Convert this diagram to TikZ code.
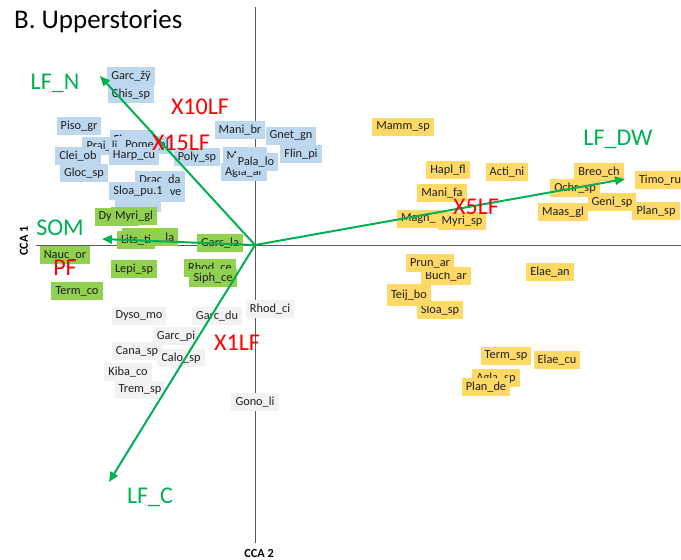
\documentclass[tikz,border=0pt]{standalone}
\usepackage{fontspec}
\setmainfont{Carlito}
\usetikzlibrary{arrows.meta}
\definecolor{vecgreen}{RGB}{0,176,80}
\definecolor{spblue}{RGB}{189,215,238}
\definecolor{spgreen}{RGB}{146,208,80}
\definecolor{spgrey}{RGB}{242,242,242}
\definecolor{spyellow}{RGB}{255,217,102}
\definecolor{axisgrey}{RGB}{89,89,89}
\definecolor{sptext}{RGB}{30,30,30}
\begin{document}
\begin{tikzpicture}[x=0.03cm,y=-0.03cm,
    sp/.style={rectangle,inner xsep=3.5pt,inner ysep=0pt,minimum height=0.54cm,text=sptext,font=\fontsize{10.5}{12}\selectfont},
    bsp/.style={sp,fill=spblue},
    gsp/.style={sp,fill=spgreen},
    wsp/.style={sp,fill=spgrey},
    ysp/.style={sp,fill=spyellow},
    vec/.style={vecgreen,line width=1.7pt,-{Triangle[length=0.3cm,width=0.25cm]}},
    vlab/.style={vecgreen,font=\fontsize{20.5}{24}\selectfont},
    flab/.style={red,font=\fontsize{20.5}{24}\selectfont}]
    \useasboundingbox (0,0) rectangle (681,559);
    \node[anchor=base west,font=\fontsize{23}{27}\selectfont] (title) at (10,28) {B. Upperstories};
    \coordinate (o) at (255,245);
    \coordinate (ytop) at (255,7);
    \coordinate (ybot) at (255,543);
    \coordinate (xleft) at (36,245);
    \coordinate (xright) at (681,245);
    \draw[axisgrey,line width=0.8pt] (ytop) -- (ybot) (xleft) -- (xright);
    \node[rotate=90,font=\bfseries\fontsize{10.5}{12}\selectfont] (cca1) at (24,241) {CCA 1};
    \node[font=\bfseries\fontsize{10.5}{12}\selectfont] (cca2) at (259,553) {CCA 2};

    \node[bsp,text width=1.1cm,align=left] (fi) at (132,139) {Fi};
    \node[bsp] (chissp) at (131,94) {Chis\_sp};
    \node[bsp] (garczy) at (131,76) {Garc\_žÿ};
    \node[bsp] (pisogr) at (79,126) {Piso\_gr};
    \node[bsp] (praili) at (102,146) {Prai\_li};
    \node[bsp] (pomeal) at (147,145) {Pome\_al};
    \node[bsp] (cleiob) at (78,156) {Clei\_ob};
    \node[bsp] (harpcu) at (134,156) {Harp\_cu};
    \node[bsp] (glocsp) at (84,173) {Gloc\_sp};
    \node[bsp] (polysp) at (197,157) {Poly\_sp};
    \node[bsp] (manibr) at (240,130) {Mani\_br};
    \node[bsp] (gnetgn) at (291,136) {Gnet\_gn};
    \node[bsp] (flinpi) at (301,154) {Flin\_pi};
    \node[bsp,text width=1.1cm,align=left] (mbox) at (245,156) {M};
    \node[bsp] (aglaar) at (244,172) {Agla\_ar};
    \node[bsp] (palalo) at (256,162) {Pala\_lo};
    \node[bsp] (dracda) at (160,180) {Drac\_da};
    \node[bsp,text width=1.1cm,align=right] (vebox) at (163,193) {ve};
    \node[bsp,minimum width=1.4cm] (hidbox) at (138,203) {};
    \node[bsp] (sloapu) at (138,191) {Sloa\_pu.1};

    \node[gsp,text width=1.1cm,align=left] (dybox) at (117,217) {Dy};
    \node[gsp] (myrigl) at (134,216) {Myri\_gl};
    \node[gsp,text width=1.45cm,align=right] (labox) at (150,237) {la};
    \node[gsp] (litsti) at (136,240) {Lits\_ti};
    \node[gsp] (garcla) at (220,243) {Garc\_la};
    \node[gsp] (naucor) at (65,255) {Nauc\_or};
    \node[gsp] (termco) at (77,291) {Term\_co};
    \node[gsp] (lepisp) at (134,269) {Lepi\_sp};
    \node[gsp] (rhodce) at (210,268) {Rhod\_ce};
    \node[gsp] (siphce) at (213,278) {Siph\_ce};

    \node[wsp] (dysomo) at (139,316) {Dyso\_mo};
    \node[wsp] (garcdu) at (217,316) {Garc\_du};
    \node[wsp] (rhodci) at (270,309) {Rhod\_ci};
    \node[wsp] (garcpi) at (176,336) {Garc\_pi};
    \node[wsp] (calosp) at (181,358) {Calo\_sp};
    \node[wsp] (canasp) at (137,351) {Cana\_sp};
    \node[wsp] (kibaco) at (128,372) {Kiba\_co};
    \node[wsp] (tremsp) at (140,390) {Trem\_sp};
    \node[wsp] (gonoli) at (255,402) {Gono\_li};

    \node[ysp] (mammsp) at (403,127) {Mamm\_sp};
    \node[ysp] (haplfl) at (448,170) {Hapl\_fl};
    \node[ysp] (actini) at (507,172) {Acti\_ni};
    \node[ysp] (manifa) at (442,193) {Mani\_fa};
    \node[ysp,text width=1.2cm,align=left] (magn) at (421,219) {Magn\_};
    \node[ysp] (myrisp) at (462,221) {Myri\_sp};
    \node[ysp] (ochrsp) at (575,188) {Ochr\_sp};
    \node[ysp] (breoch) at (599,172) {Breo\_ch};
    \node[ysp] (timoru) at (660,180) {Timo\_ru};
    \node[ysp] (maasgl) at (563,212) {Maas\_gl};
    \node[ysp] (genisp) at (612,202) {Geni\_sp};
    \node[ysp] (plansp) at (656,211) {Plan\_sp};
    \node[ysp] (buchar) at (446,276) {Buch\_ar};
    \node[ysp] (prunar) at (430,263) {Prun\_ar};
    \node[ysp] (sloasp) at (440,310) {Sloa\_sp};
    \node[ysp,minimum height=0.68cm] (teijbo) at (409,295) {Teij\_bo};
    \node[ysp] (elaean) at (550,272) {Elae\_an};
    \node[ysp] (termsp) at (506,356) {Term\_sp};
    \node[ysp] (elaecu) at (557,360) {Elae\_cu};
    \node[ysp] (aglasp) at (496,378) {Agla\_sp};
    \node[ysp] (plande) at (486,387) {Plan\_de};

    \coordinate (lfn) at (100,76);
    \coordinate (lfdw) at (625,179);
    \coordinate (som) at (102,239);
    \coordinate (lfc) at (109,482);
    \path[vec]
      (o) edge (lfn)
      (o) edge (lfdw)
      (o) edge (som)
      (o) edge (lfc);

    \node[vlab] (lfnlab) at (55,83) {LF\_N};
    \node[vlab] (lfdwlab) at (618,139) {LF\_DW};
    \node[vlab] (somlab) at (60,228) {SOM};
    \node[vlab] (lfclab) at (150,497) {LF\_C};
    \node[flab] (x10) at (200,107) {X10LF};
    \node[flab] (x15) at (181,143) {X15LF};
    \node[flab] (x5) at (476,207) {X5LF};
    \node[flab] (x1) at (237,343) {X1LF};
    \node[flab] (pf) at (65,268) {PF};
\end{tikzpicture}
\end{document}
